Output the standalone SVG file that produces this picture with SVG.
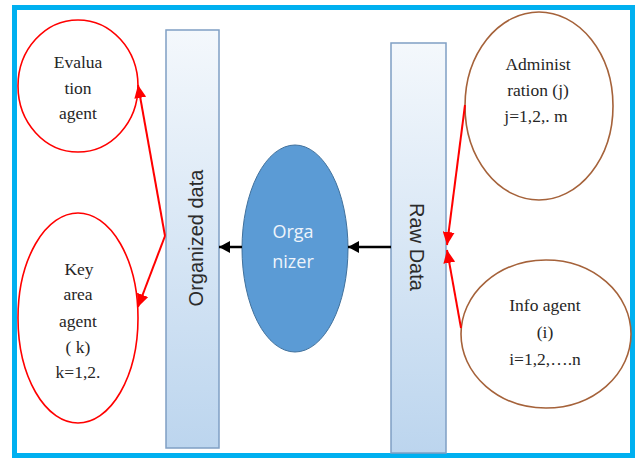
<svg xmlns="http://www.w3.org/2000/svg" width="638" height="458" viewBox="0 0 638 458">
<defs>
<linearGradient id="barGrad" x1="0" y1="0" x2="0" y2="1">
<stop offset="0" stop-color="#f4f8fc"/>
<stop offset="1" stop-color="#bcd5ee"/>
</linearGradient>
<marker id="redHead" markerUnits="userSpaceOnUse" markerWidth="14" markerHeight="12" refX="13" refY="6" orient="auto">
<path d="M0,0 L13,6 L0,12 Z" fill="#ff0000"/>
</marker>
<marker id="blackHead" markerUnits="userSpaceOnUse" markerWidth="12" markerHeight="12" refX="11" refY="6" orient="auto">
<path d="M0,0 L11,6 L0,12 Z" fill="#000000"/>
</marker>
</defs>
<style>
.bar{fill:url(#barGrad);stroke:#7f9fc4;stroke-width:1.5}
.agentRed{fill:#ffffff;stroke:#ff0000;stroke-width:1.6}
.agentBrown{fill:#ffffff;stroke:#a5623a;stroke-width:1.6}
.serif{font-family:"Liberation Serif","Times New Roman",serif;font-size:17.5px;fill:#262626;text-anchor:middle}
.sans{font-family:"Liberation Sans",Arial,sans-serif;font-size:20px;fill:#2b2b2b;text-anchor:middle}
.red{stroke:#ff0000;stroke-width:2;fill:none;marker-end:url(#redHead)}
.black{stroke:#000000;stroke-width:2.5;fill:none;marker-end:url(#blackHead)}
</style>
<rect x="0" y="0" width="638" height="458" fill="#ffffff"/>
<rect x="14.5" y="7.5" width="618" height="448" fill="#ffffff" stroke="#00b0f0" stroke-width="5"/>

<g id="organized-data">
<rect class="bar" x="166" y="30" width="53" height="418"/>
<text class="sans" transform="translate(203,238) rotate(-90)" x="0" y="0">Organized data</text>
</g>

<g id="raw-data">
<rect class="bar" x="391" y="43" width="55" height="410"/>
<text class="sans" transform="translate(410,247) rotate(90)" x="0" y="0">Raw Data</text>
</g>

<g id="organizer">
<ellipse cx="295" cy="248.5" rx="53" ry="103.5" fill="#5b9bd5" stroke="#41719c" stroke-width="1"/>
<text x="293" y="238" font-family="'Open Sans','Liberation Sans',sans-serif" font-size="18" fill="#eef4fb" text-anchor="middle">Orga</text>
<text x="293" y="268" font-family="'Open Sans','Liberation Sans',sans-serif" font-size="18" fill="#eef4fb" text-anchor="middle">nizer</text>
</g>

<g id="evaluation-agent">
<ellipse class="agentRed" cx="78" cy="86" rx="60" ry="66"/>
<text class="serif" x="78" y="68">Evalua</text>
<text class="serif" x="78" y="94">tion</text>
<text class="serif" x="78" y="119">agent</text>
</g>

<g id="key-area-agent">
<ellipse class="agentRed" cx="78" cy="318" rx="60" ry="105"/>
<text class="serif" x="79" y="275">Key</text>
<text class="serif" x="78" y="300">area</text>
<text class="serif" x="78" y="327">agent</text>
<text class="serif" x="78" y="353">( k)</text>
<text class="serif" x="78" y="378">k=1,2.</text>
</g>

<g id="administration">
<ellipse class="agentBrown" cx="539" cy="106" rx="74" ry="94"/>
<text class="serif" x="538" y="70">Administ</text>
<text class="serif" x="538" y="96">ration (j)</text>
<text class="serif" x="536" y="122">j=1,2,. m</text>
</g>

<g id="info-agent">
<ellipse class="agentBrown" cx="546" cy="334" rx="85" ry="74"/>
<text class="serif" x="545" y="311">Info agent</text>
<text class="serif" x="545" y="338">(i)</text>
<text class="serif" x="545" y="365">i=1,2,….n</text>
</g>

<g id="connectors">
<line class="black" x1="242" y1="247" x2="219" y2="247"/>
<line class="black" x1="391" y1="247" x2="348" y2="247"/>
<line class="red" x1="165" y1="236" x2="138" y2="85"/>
<line class="red" x1="165" y1="236" x2="138" y2="307"/>
<line class="red" x1="465" y1="105" x2="447" y2="245"/>
<line class="red" x1="461" y1="328" x2="447" y2="250"/>
</g>
</svg>
